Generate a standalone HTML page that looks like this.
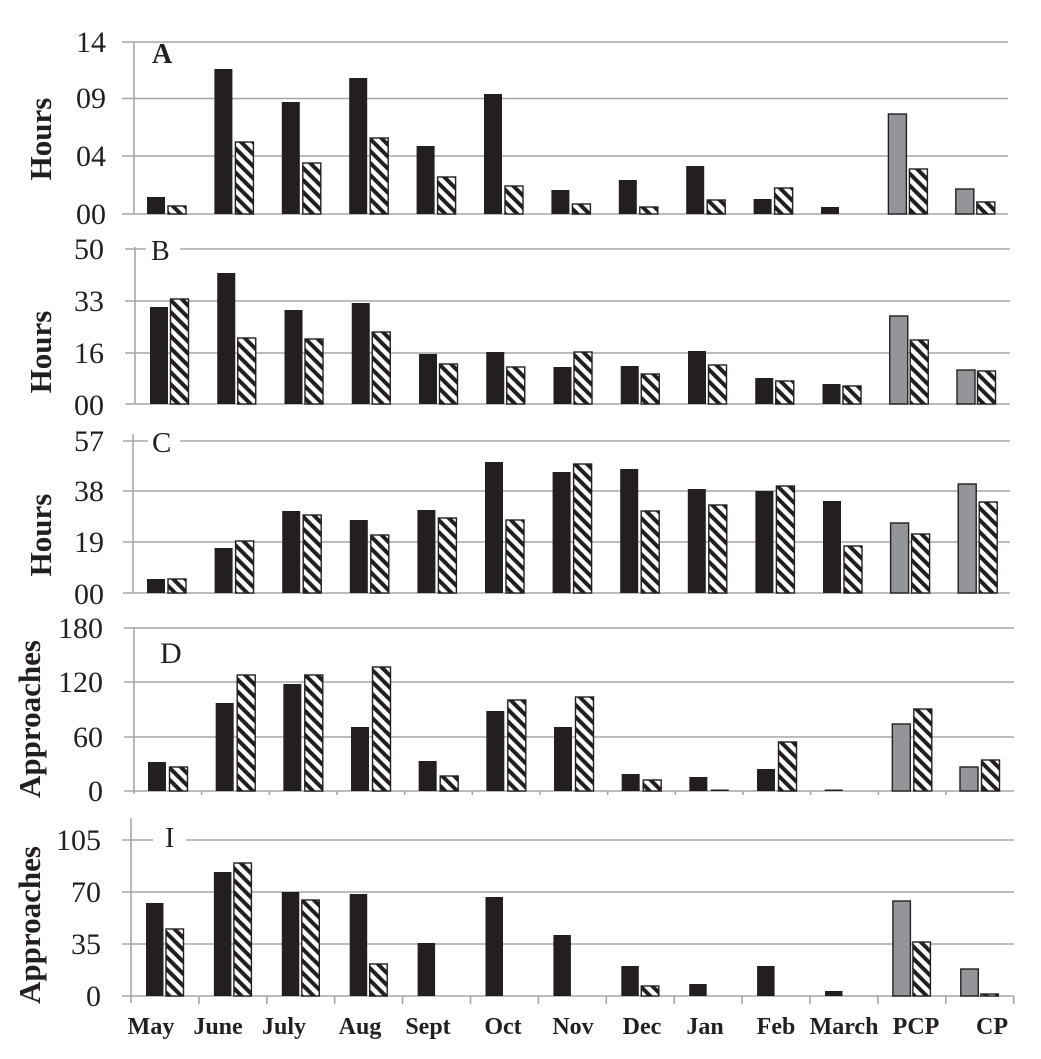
<!DOCTYPE html>
<html>
<head>
<meta charset="utf-8">
<style>
html,body{margin:0;padding:0;background:#fff;}
svg{display:block;}
text{font-family:"Liberation Serif",serif;fill:#231f20;}
.tk{font-size:30px;text-anchor:end;}
.yl{font-size:31px;font-weight:bold;text-anchor:middle;}
.xl{font-size:24px;font-weight:bold;text-anchor:middle;}
.g{stroke:#a6a6a6;stroke-width:1.6;fill:none;}
.k{fill:#231f20;}
.gr{fill:#939598;stroke:#231f20;stroke-width:1.4;}
.h{fill:url(#hatch);stroke:#231f20;stroke-width:1.4;}
</style>
</head>
<body>
<svg width="1041" height="1059" viewBox="0 0 1041 1059" xmlns="http://www.w3.org/2000/svg">
<defs>
<pattern id="hatch" patternUnits="userSpaceOnUse" width="8.5" height="8.5" patternTransform="rotate(-45)">
<rect x="0" y="0" width="8.5" height="8.5" fill="#fff"/>
<rect x="0" y="0" width="4" height="8.5" fill="#231f20"/>
</pattern>
</defs>
<rect width="1041" height="1059" fill="#fff"/>

<!-- ================= Panel A ================= -->
<g>
<line class="g" x1="122" y1="42" x2="1008" y2="42"/>
<line class="g" x1="122" y1="98.5" x2="1008" y2="98.5"/>
<line class="g" x1="122" y1="156" x2="1008" y2="156"/>
<line class="g" x1="122" y1="214" x2="1008" y2="214"/>
<line class="g" x1="134" y1="42" x2="134" y2="214"/>
<text class="tk" x="106" y="52">14</text>
<text class="tk" x="106" y="108">09</text>
<text class="tk" x="106" y="166">04</text>
<text class="tk" x="106" y="224">00</text>
<text class="yl" transform="translate(51,139) rotate(-90)">Hours</text>
<text x="152" y="63" style="font-size:28px;font-weight:bold;">A</text>
<rect class="k" x="147" y="197" width="18" height="17"/>
<rect class="k" x="214.4" y="69" width="18" height="145"/>
<rect class="k" x="281.8" y="102" width="18" height="112"/>
<rect class="k" x="349.2" y="78" width="18" height="136"/>
<rect class="k" x="416.6" y="146" width="18" height="68"/>
<rect class="k" x="484" y="94" width="18" height="120"/>
<rect class="k" x="551.4" y="190" width="18" height="24"/>
<rect class="k" x="618.8" y="180" width="18" height="34"/>
<rect class="k" x="686.2" y="166" width="18" height="48"/>
<rect class="k" x="753.6" y="199" width="18" height="15"/>
<rect class="k" x="821" y="207" width="18" height="7"/>
<rect class="gr" x="888.4" y="114" width="18" height="100"/>
<rect class="gr" x="955.8" y="189" width="18" height="25"/>
<rect class="h" x="168" y="206" width="18" height="8"/>
<rect class="h" x="235.4" y="142" width="18" height="72"/>
<rect class="h" x="302.8" y="163" width="18" height="51"/>
<rect class="h" x="370.2" y="138" width="18" height="76"/>
<rect class="h" x="437.6" y="177" width="18" height="37"/>
<rect class="h" x="505" y="186" width="18" height="28"/>
<rect class="h" x="572.4" y="204" width="18" height="10"/>
<rect class="h" x="639.8" y="207" width="18" height="7"/>
<rect class="h" x="707.2" y="200" width="18" height="14"/>
<rect class="h" x="774.6" y="188" width="18" height="26"/>
<rect class="h" x="909.4" y="169" width="18" height="45"/>
<rect class="h" x="976.8" y="202" width="18" height="12"/>
</g>

<!-- ================= Panel B ================= -->
<g>
<line class="g" x1="125" y1="249" x2="1010" y2="249"/>
<line class="g" x1="125" y1="301" x2="1010" y2="301"/>
<line class="g" x1="125" y1="353" x2="1010" y2="353"/>
<line class="g" x1="125" y1="404" x2="1010" y2="404"/>
<line class="g" x1="135" y1="247" x2="135" y2="404"/>
<text class="tk" x="104" y="259">50</text>
<text class="tk" x="104" y="311">33</text>
<text class="tk" x="104" y="363">16</text>
<text class="tk" x="104" y="415">00</text>
<text class="yl" transform="translate(51,352) rotate(-90)">Hours</text>
<rect x="146" y="238" width="34" height="24" fill="#fff"/>
<text x="151" y="260" style="font-size:28px;">B</text>
<rect class="k" x="150" y="307" width="18" height="97"/>
<rect class="k" x="217.25" y="273" width="18" height="131"/>
<rect class="k" x="284.5" y="310" width="18" height="94"/>
<rect class="k" x="351.75" y="303" width="18" height="101"/>
<rect class="k" x="419" y="354" width="18" height="50"/>
<rect class="k" x="486.25" y="352" width="18" height="52"/>
<rect class="k" x="553.5" y="367" width="18" height="37"/>
<rect class="k" x="620.75" y="366" width="18" height="38"/>
<rect class="k" x="688" y="351" width="18" height="53"/>
<rect class="k" x="755.25" y="378" width="18" height="26"/>
<rect class="k" x="822.5" y="384" width="18" height="20"/>
<rect class="gr" x="889.75" y="316" width="18" height="88"/>
<rect class="gr" x="957" y="370" width="18" height="34"/>
<rect class="h" x="170.5" y="299" width="18" height="105"/>
<rect class="h" x="237.75" y="338" width="18" height="66"/>
<rect class="h" x="305" y="339" width="18" height="65"/>
<rect class="h" x="372.25" y="332" width="18" height="72"/>
<rect class="h" x="439.5" y="364" width="18" height="40"/>
<rect class="h" x="506.75" y="367" width="18" height="37"/>
<rect class="h" x="574" y="352" width="18" height="52"/>
<rect class="h" x="641.25" y="374" width="18" height="30"/>
<rect class="h" x="708.5" y="365" width="18" height="39"/>
<rect class="h" x="775.75" y="381" width="18" height="23"/>
<rect class="h" x="843" y="386" width="18" height="18"/>
<rect class="h" x="910.25" y="340" width="18" height="64"/>
<rect class="h" x="977.5" y="371" width="18" height="33"/>
</g>

<!-- ================= Panel C ================= -->
<g>
<line class="g" x1="123" y1="441" x2="1010" y2="441"/>
<line class="g" x1="123" y1="491" x2="1010" y2="491"/>
<line class="g" x1="123" y1="542" x2="1010" y2="542"/>
<line class="g" x1="123" y1="593" x2="1010" y2="593"/>
<line class="g" x1="133" y1="434" x2="133" y2="593"/>
<text class="tk" x="104" y="451">57</text>
<text class="tk" x="104" y="501">38</text>
<text class="tk" x="104" y="552">19</text>
<text class="tk" x="104" y="604">00</text>
<text class="yl" transform="translate(51,535) rotate(-90)">Hours</text>
<rect x="148" y="429" width="32" height="25" fill="#fff"/>
<text x="152" y="452" style="font-size:29px;">C</text>
<rect class="k" x="147" y="579" width="18" height="14"/>
<rect class="k" x="214.6" y="548" width="18" height="45"/>
<rect class="k" x="282.2" y="511" width="18" height="82"/>
<rect class="k" x="349.8" y="520" width="18" height="73"/>
<rect class="k" x="417.4" y="510" width="18" height="83"/>
<rect class="k" x="485" y="462" width="18" height="131"/>
<rect class="k" x="552.6" y="472" width="18" height="121"/>
<rect class="k" x="620.2" y="469" width="18" height="124"/>
<rect class="k" x="687.8" y="489" width="18" height="104"/>
<rect class="k" x="755.4" y="491" width="18" height="102"/>
<rect class="k" x="823" y="501" width="18" height="92"/>
<rect class="gr" x="890.6" y="523" width="18" height="70"/>
<rect class="gr" x="958.2" y="484" width="18" height="109"/>
<rect class="h" x="168" y="579" width="18" height="14"/>
<rect class="h" x="235.6" y="541" width="18" height="52"/>
<rect class="h" x="303.2" y="515" width="18" height="78"/>
<rect class="h" x="370.8" y="535" width="18" height="58"/>
<rect class="h" x="438.4" y="518" width="18" height="75"/>
<rect class="h" x="506" y="520" width="18" height="73"/>
<rect class="h" x="573.6" y="464" width="18" height="129"/>
<rect class="h" x="641.2" y="511" width="18" height="82"/>
<rect class="h" x="708.8" y="505" width="18" height="88"/>
<rect class="h" x="776.4" y="486" width="18" height="107"/>
<rect class="h" x="844" y="546" width="18" height="47"/>
<rect class="h" x="911.6" y="534" width="18" height="59"/>
<rect class="h" x="979.2" y="502" width="18" height="91"/>
</g>

<!-- ================= Panel D ================= -->
<g>
<line class="g" x1="124" y1="628" x2="1014" y2="628"/>
<line class="g" x1="124" y1="682" x2="1014" y2="682"/>
<line class="g" x1="124" y1="737" x2="1014" y2="737"/>
<line class="g" x1="124" y1="791" x2="1014" y2="791"/>
<line class="g" x1="134" y1="627" x2="134" y2="794"/>
<g class="g">
<line x1="201.7" y1="791" x2="201.7" y2="795"/>
<line x1="269.3" y1="791" x2="269.3" y2="795"/>
<line x1="337" y1="791" x2="337" y2="795"/>
<line x1="404.7" y1="791" x2="404.7" y2="795"/>
<line x1="472.3" y1="791" x2="472.3" y2="795"/>
<line x1="540" y1="791" x2="540" y2="795"/>
<line x1="607.7" y1="791" x2="607.7" y2="795"/>
<line x1="675.3" y1="791" x2="675.3" y2="795"/>
<line x1="743" y1="791" x2="743" y2="795"/>
<line x1="810.7" y1="791" x2="810.7" y2="795"/>
<line x1="878.3" y1="791" x2="878.3" y2="795"/>
<line x1="946" y1="791" x2="946" y2="795"/>
</g>
<text class="tk" x="103" y="638">180</text>
<text class="tk" x="103" y="692">120</text>
<text class="tk" x="103" y="747">60</text>
<text class="tk" x="103" y="801">0</text>
<text class="yl" transform="translate(40,719) rotate(-90)">Approaches</text>
<text x="160" y="663" style="font-size:30px;">D</text>
<rect class="k" x="148" y="762" width="18" height="29"/>
<rect class="k" x="215.67" y="703" width="18" height="88"/>
<rect class="k" x="283.33" y="684" width="18" height="107"/>
<rect class="k" x="351" y="727" width="18" height="64"/>
<rect class="k" x="418.67" y="761" width="18" height="30"/>
<rect class="k" x="486.33" y="711" width="18" height="80"/>
<rect class="k" x="554" y="727" width="18" height="64"/>
<rect class="k" x="621.67" y="774" width="18" height="17"/>
<rect class="k" x="689.33" y="777" width="18" height="14"/>
<rect class="k" x="757" y="769" width="18" height="22"/>
<rect class="k" x="824.67" y="789.5" width="18" height="1.5"/>
<rect class="gr" x="892.33" y="724" width="18" height="67"/>
<rect class="gr" x="960" y="767" width="18" height="24"/>
<rect class="h" x="169.5" y="767" width="18" height="24"/>
<rect class="h" x="237.2" y="675" width="18" height="116"/>
<rect class="h" x="304.8" y="675" width="18" height="116"/>
<rect class="h" x="372.5" y="667" width="18" height="124"/>
<rect class="h" x="440.2" y="776" width="18" height="15"/>
<rect class="h" x="507.8" y="700" width="18" height="91"/>
<rect class="h" x="575.5" y="697" width="18" height="94"/>
<rect class="h" x="643.2" y="780" width="18" height="11"/>
<rect class="k" x="710.8" y="789.5" width="18" height="1.5"/>
<rect class="h" x="778.5" y="742" width="18" height="49"/>
<rect class="h" x="913.8" y="709" width="18" height="82"/>
<rect class="h" x="981.5" y="760" width="18" height="31"/>
</g>

<!-- ================= Panel I ================= -->
<g>
<line class="g" x1="122" y1="840" x2="1014" y2="840"/>
<line class="g" x1="122" y1="892" x2="1014" y2="892"/>
<line class="g" x1="122" y1="944" x2="1014" y2="944"/>
<line class="g" x1="122" y1="996" x2="1014" y2="996"/>
<line class="g" x1="131" y1="818" x2="131" y2="1003"/>
<g class="g">
<line x1="198.9" y1="996" x2="198.9" y2="1004"/>
<line x1="266.8" y1="996" x2="266.8" y2="1004"/>
<line x1="334.7" y1="996" x2="334.7" y2="1004"/>
<line x1="402.6" y1="996" x2="402.6" y2="1004"/>
<line x1="470.5" y1="996" x2="470.5" y2="1004"/>
<line x1="538.4" y1="996" x2="538.4" y2="1004"/>
<line x1="606.3" y1="996" x2="606.3" y2="1004"/>
<line x1="674.2" y1="996" x2="674.2" y2="1004"/>
<line x1="742.1" y1="996" x2="742.1" y2="1004"/>
<line x1="810" y1="996" x2="810" y2="1004"/>
<line x1="877.9" y1="996" x2="877.9" y2="1004"/>
<line x1="945.8" y1="996" x2="945.8" y2="1004"/>
<line x1="1013.7" y1="996" x2="1013.7" y2="1004"/>
</g>
<text class="tk" x="101" y="850">105</text>
<text class="tk" x="101" y="902">70</text>
<text class="tk" x="101" y="954">35</text>
<text class="tk" x="101" y="1006">0</text>
<text class="yl" transform="translate(40,925) rotate(-90)">Approaches</text>
<rect x="153" y="826" width="33" height="24" fill="#fff"/>
<text x="165" y="847" style="font-size:28px;">I</text>
<rect class="k" x="146" y="903" width="17.5" height="93"/>
<rect class="k" x="213.9" y="872" width="17.5" height="124"/>
<rect class="k" x="281.8" y="892" width="17.5" height="104"/>
<rect class="k" x="349.7" y="894" width="17.5" height="102"/>
<rect class="k" x="417.6" y="943" width="17.5" height="53"/>
<rect class="k" x="485.5" y="897" width="17.5" height="99"/>
<rect class="k" x="553.4" y="935" width="17.5" height="61"/>
<rect class="k" x="621.3" y="966" width="17.5" height="30"/>
<rect class="k" x="689.2" y="984" width="17.5" height="12"/>
<rect class="k" x="757.1" y="966" width="17.5" height="30"/>
<rect class="k" x="825" y="991" width="17.5" height="5"/>
<rect class="gr" x="892.9" y="901" width="17.5" height="95"/>
<rect class="gr" x="960.8" y="969" width="17.5" height="27"/>
<rect class="h" x="166" y="929" width="17.5" height="67"/>
<rect class="h" x="233.9" y="863" width="17.5" height="133"/>
<rect class="h" x="301.8" y="900" width="17.5" height="96"/>
<rect class="h" x="369.7" y="964" width="17.5" height="32"/>
<rect class="h" x="641.3" y="986" width="17.5" height="10"/>
<rect class="h" x="912.9" y="942" width="17.5" height="54"/>
<rect class="h" x="980.8" y="994" width="17.5" height="2"/>
</g>

<!-- ================= X labels ================= -->
<g>
<text class="xl" x="151" y="1034">May</text>
<text class="xl" x="218" y="1034">June</text>
<text class="xl" x="284" y="1034">July</text>
<text class="xl" x="360" y="1034">Aug</text>
<text class="xl" x="428" y="1034">Sept</text>
<text class="xl" x="503" y="1034">Oct</text>
<text class="xl" x="573" y="1034">Nov</text>
<text class="xl" x="642" y="1034">Dec</text>
<text class="xl" x="705" y="1034">Jan</text>
<text class="xl" x="776" y="1034">Feb</text>
<text class="xl" x="844" y="1034">March</text>
<text class="xl" x="916" y="1034">PCP</text>
<text class="xl" x="992" y="1034">CP</text>
</g>
</svg>
</body>
</html>
